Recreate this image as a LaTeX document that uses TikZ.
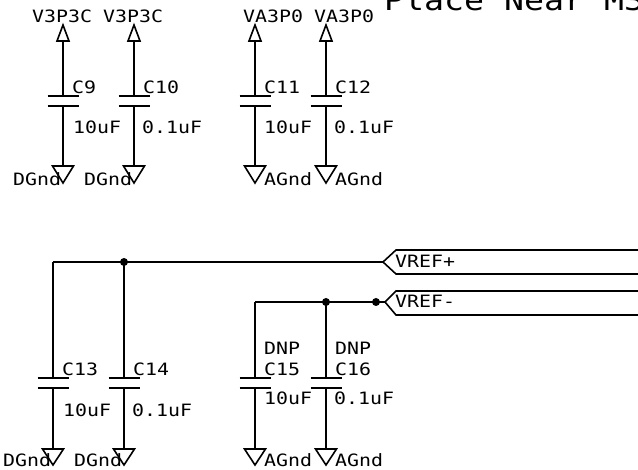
\documentclass[tikz,border=0pt]{standalone}
\usepackage{fontspec}
\newfontfamily\schem[FakeStretch=1.17]{DejaVu Sans Mono}
\tikzset{
  x=1pt,y=-1pt,
  wire/.style={line width=1.7pt,black},
  plate/.style={line width=1.8pt,black},
  lbl/.style={font=\schem\fontsize{17}{17}\selectfont,inner sep=0pt,anchor=base west,text=black},
  dotj/.style={circle,fill=black,inner sep=0pt,minimum size=8pt},
  sym/.style={line width=1.6pt,black,line join=miter},
}
\newcommand{\capa}[7]{% name,x,ytop,plate1y,gndtop,gndtip,vals
  \coordinate (#1a) at (#2,#3);
  \coordinate (#1p) at (#2,#4);
  \coordinate (#1q) at (#2,#4+10);
  \coordinate (#1g) at (#2,#5);
  \draw[wire] (#1a) -- (#1p);
  \draw[wire] (#1q) -- (#1g);
  \draw[plate] (#2-15.5,#4) -- (#2+15.5,#4);
  \draw[plate] (#2-15.5,#4+10) -- (#2+15.5,#4+10);
  \draw[sym] (#2-10.5,#5) -- (#2+10.5,#5) -- (#2,#6) -- cycle;
  \node[lbl] (#1n) at (#2+9,#4-2) {#7};
}
\begin{document}
\begin{tikzpicture}
\useasboundingbox (0,0) rectangle (638,470);
\clip (0,0) rectangle (638,470);
\capa{c9}{63}{41}{96}{166}{183}{C9}
\capa{c10}{134}{41}{96}{166}{183}{C10}
\capa{c11}{255}{41}{96}{166}{183}{C11}
\capa{c12}{326}{41}{96}{166}{183}{C12}
\capa{c13}{53}{262}{378}{449}{465}{C13}
\capa{c14}{124}{262}{378}{449}{465}{C14}
\capa{c15}{255}{302}{378}{449}{465}{C15}
\capa{c16}{326}{302}{378}{449}{465}{C16}
% power arrows
\foreach \x in {63,134,255,326}{
  \draw[sym] (\x-6,41) -- (\x+6,41) -- (\x,25) -- cycle;
}
% power labels
\node[lbl] (p1) at (32,23) {V3P3C};
\node[lbl] (p2) at (103,23) {V3P3C};
\node[lbl] (p3) at (243,23) {VA3P0};
\node[lbl] (p4) at (314,23) {VA3P0};
% values
\node[lbl] (v1) at (73,134) {10uF};
\node[lbl] (v2) at (142,134) {0.1uF};
\node[lbl] (v3) at (264,134) {10uF};
\node[lbl] (v4) at (334,134) {0.1uF};
\node[lbl] (v5) at (63,417) {10uF};
\node[lbl] (v6) at (132,417) {0.1uF};
\node[lbl] (v7) at (264,405) {10uF};
\node[lbl] (v8) at (334,405) {0.1uF};
% grounds
\node[lbl] (g1) at (13,186) {DGnd};
\node[lbl] (g2) at (84,186) {DGnd};
\node[lbl] (g3) at (264,186) {AGnd};
\node[lbl] (g4) at (335,186) {AGnd};
\node[lbl] (g5) at (3,467) {DGnd};
\node[lbl] (g6) at (74,467) {DGnd};
\node[lbl] (g7) at (264,467) {AGnd};
\node[lbl] (g8) at (335,467) {AGnd};
% DNP
\node[lbl] (d1) at (264,355) {DNP};
\node[lbl] (d2) at (335,355) {DNP};
% title
\node[lbl,font=\schem\fontsize{28.4}{28.4}\selectfont] (title) at (384,11) {Place Near M3};
% VREF
\coordinate (r1) at (383,262);
\coordinate (r2) at (385,302);
\draw[sym] (640,250) -- (396,250) -- (r1) -- (396,274) -- (640,274);
\draw[sym] (640,291) -- (396,291) -- (r2) -- (396,315) -- (640,315);
\node[lbl] (rp) at (395,268) {VREF+};
\node[lbl] (rm) at (395,308) {VREF-};
\draw[wire] (c13a) -- (r1);
\draw[wire] (c15a) -- (r2);
\draw[wire] (c13a) -- +(0,.85);
\node[dotj] (j1) at (c14a) {};
\node[dotj] (j2) at (c16a) {};
\node[dotj] (j3) at (376,302) {};
\end{tikzpicture}
\end{document}
